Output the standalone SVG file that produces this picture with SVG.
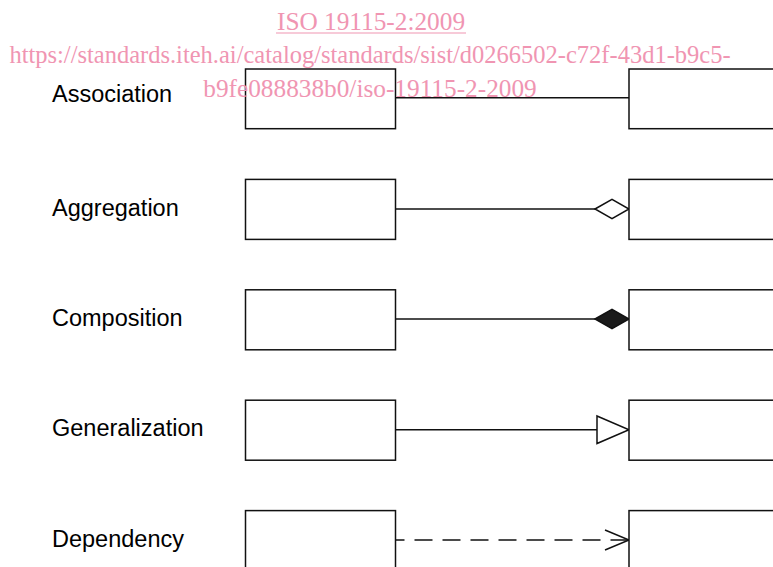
<svg xmlns="http://www.w3.org/2000/svg" width="773" height="567" viewBox="0 0 773 567">
  <style>
    .box { fill: #fff; stroke: #111; stroke-width: 1.5; }
    .lbl { font-family: "Liberation Sans", Arial, sans-serif; font-size: 23.5px; fill: #000; }
    .conn { fill: none; stroke: #111; stroke-width: 1.5; }
    .wm { font-family: "Liberation Serif", "Times New Roman", serif; font-size: 25.3px; fill: #f095b2; text-anchor: middle; }
  </style>
  <rect width="773" height="567" fill="#fff"/>

  <g id="labels">
    <text class="lbl" x="52" y="102.3">Association</text>
    <text class="lbl" x="52" y="216">Aggregation</text>
    <text class="lbl" x="52" y="326">Composition</text>
    <text class="lbl" x="52" y="436">Generalization</text>
    <text class="lbl" x="52" y="546.7">Dependency</text>
  </g>

  <g id="connectors">
    <line class="conn" x1="395.5" y1="97.7" x2="629" y2="97.7"/>
    <line class="conn" x1="395.5" y1="209" x2="595" y2="209"/>
    <polygon class="conn" points="595,209 612,199.3 629,209 612,218.7"/>
    <line class="conn" x1="395.5" y1="319" x2="595" y2="319"/>
    <polygon class="conn" style="fill:#1a1a1a" points="595,319 612,309.3 629,319 612,328.7"/>
    <line class="conn" x1="395.5" y1="429.7" x2="597" y2="429.7"/>
    <polygon class="conn" points="597,416 629,429.7 597,443.5"/>
    <line class="conn" x1="395.5" y1="540" x2="629" y2="540" stroke-dasharray="18 10" stroke-dashoffset="9"/>
    <polyline class="conn" points="605,530 629,540 605,550"/>
  </g>

  <g id="node-assoc-a"><rect class="box" x="245.5" y="69" width="150" height="59.7"/></g>
  <g id="node-assoc-b"><rect class="box" x="629" y="69" width="160" height="59.7"/></g>
  <g id="node-aggr-a"><rect class="box" x="245.5" y="179.4" width="150" height="60"/></g>
  <g id="node-aggr-b"><rect class="box" x="629" y="179.4" width="160" height="60"/></g>
  <g id="node-comp-a"><rect class="box" x="245.5" y="289.8" width="150" height="60"/></g>
  <g id="node-comp-b"><rect class="box" x="629" y="289.8" width="160" height="60"/></g>
  <g id="node-gen-a"><rect class="box" x="245.5" y="400.2" width="150" height="60"/></g>
  <g id="node-gen-b"><rect class="box" x="629" y="400.2" width="160" height="60"/></g>
  <g id="node-dep-a"><rect class="box" x="245.5" y="510.6" width="150" height="60"/></g>
  <g id="node-dep-b"><rect class="box" x="629" y="510.6" width="160" height="60"/></g>

  <g id="watermark">
    <text class="wm" x="371" y="30">ISO 19115-2:2009</text>
    <line x1="276" y1="33" x2="466" y2="33" stroke="#f095b2" stroke-width="1.2"/>
    <text class="wm" x="370" y="63.3" style="font-size:24.5px">https://standards.iteh.ai/catalog/standards/sist/d0266502-c72f-43d1-b9c5-</text>
    <text class="wm" x="370" y="97">b9fe088838b0/iso-19115-2-2009</text>
  </g>
</svg>
